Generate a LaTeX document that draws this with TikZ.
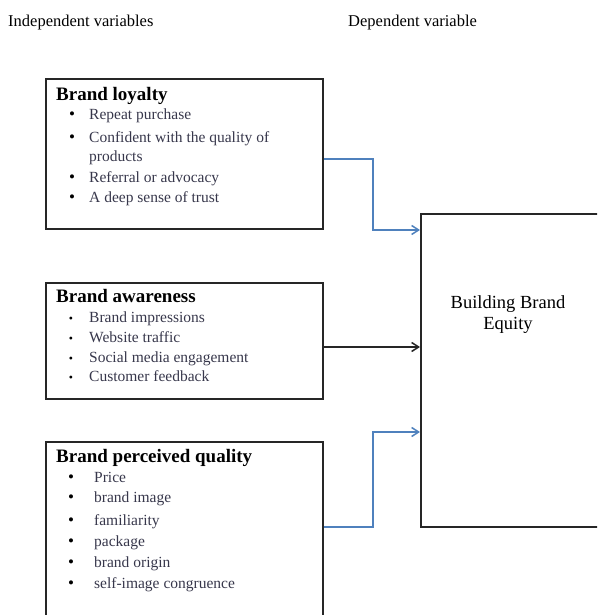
\documentclass[tikz,border=0pt]{standalone}
\usepackage{fontspec}
\setmainfont{Liberation Serif}
\usetikzlibrary{arrows.meta}
\definecolor{lineblue}{RGB}{79,129,189}
\definecolor{itemgray}{RGB}{55,55,75}
\tikzset{
  box/.style={draw=black!85,line width=1.8pt,rectangle,inner sep=0pt,anchor=north west},
  head/.style={font=\fontsize{16.5}{19}\selectfont,anchor=base west,inner sep=0pt},
  ttl/.style={font=\fontsize{19}{22}\selectfont\bfseries,anchor=base west,inner sep=0pt},
  itm/.style={font=\fontsize{15.5}{18}\selectfont,text=itemgray,anchor=base west,inner sep=0pt},
  bul/.style={font=\fontsize{17}{18}\selectfont,anchor=base,inner sep=0pt},
  conn/.style={line width=1.5pt,-{Straight Barb[length=7pt,width=9pt]}},
}
\newcommand{\smbul}{\scalebox{0.7}{\textbullet}}
\begin{document}
\begin{tikzpicture}[x=1pt,y=1pt]
\useasboundingbox (0,0) rectangle (597,615);
\clip (0,0) rectangle (597,615);
% headers
\node[head] (hind) at (8,588) {Independent variables};
\node[head] (hdep) at (348,588) {Dependent variable};
% boxes
\node[box,minimum width=277pt,minimum height=150pt] (b1) at (45,537) {};
\node[box,minimum width=277pt,minimum height=116pt] (b2) at (45,333) {};
\node[box,minimum width=277pt,minimum height=200pt] (b3) at (45,174) {};
\node[box,minimum width=220pt,minimum height=313pt] (eq) at (420,402) {};
% box 1
\node[ttl] (t1) at (56,514) {Brand loyalty};
\node[bul] (b1a) at (72,495) {\textbullet};
\node[itm] (i1a) at (89,495) {Repeat purchase};
\node[bul] (b1b) at (72,472) {\textbullet};
\node[itm] (i1b) at (89,472) {Confident with the quality of};
\node[itm] (i1c) at (89,453) {products};
\node[bul] (b1d) at (72,432) {\textbullet};
\node[itm] (i1d) at (89,432) {Referral or advocacy};
\node[bul] (b1e) at (72,412) {\textbullet};
\node[itm] (i1e) at (89,412) {A deep sense of trust};
% box 2
\node[ttl] (t2) at (56,312) {Brand awareness};
\node[bul] (b2a) at (71,292) {\smbul};
\node[itm] (i2a) at (89,292) {Brand impressions};
\node[bul] (b2b) at (71,272) {\smbul};
\node[itm] (i2b) at (89,272) {Website traffic};
\node[bul] (b2c) at (71,252) {\smbul};
\node[itm] (i2c) at (89,252) {Social media engagement};
\node[bul] (b2d) at (71,233) {\smbul};
\node[itm] (i2d) at (89,233) {Customer feedback};
% box 3
\node[ttl] (t3) at (56,152) {Brand perceived quality};
\node[bul] (b3a) at (71,132) {\textbullet};
\node[itm] (i3a) at (94,132) {Price};
\node[bul] (b3b) at (71,112) {\textbullet};
\node[itm] (i3b) at (94,112) {brand image};
\node[bul] (b3c) at (71,89) {\textbullet};
\node[itm] (i3c) at (94,89) {familiarity};
\node[bul] (b3d) at (71,68) {\textbullet};
\node[itm] (i3d) at (94,68) {package};
\node[bul] (b3e) at (71,47) {\textbullet};
\node[itm] (i3e) at (94,47) {brand origin};
\node[bul] (b3f) at (71,26) {\textbullet};
\node[itm] (i3f) at (94,26) {self-image congruence};
% dependent text
\node[font=\fontsize{18.5}{21}\selectfont,align=center,inner sep=0pt] (eqt) at (508,300) {Building Brand\\Equity};
% connectors
\draw[conn,lineblue] ([yshift=-81pt]b1.north east) -| (373,385) -- ([yshift=-17pt]eq.north west);
\draw[conn,black!85] ([yshift=-65pt]b2.north east) -- ([yshift=-134pt]eq.north west);
\draw[conn,lineblue] ([yshift=-86pt]b3.north east) -| (373,183) -- ([yshift=-219pt]eq.north west);
\end{tikzpicture}
\end{document}
